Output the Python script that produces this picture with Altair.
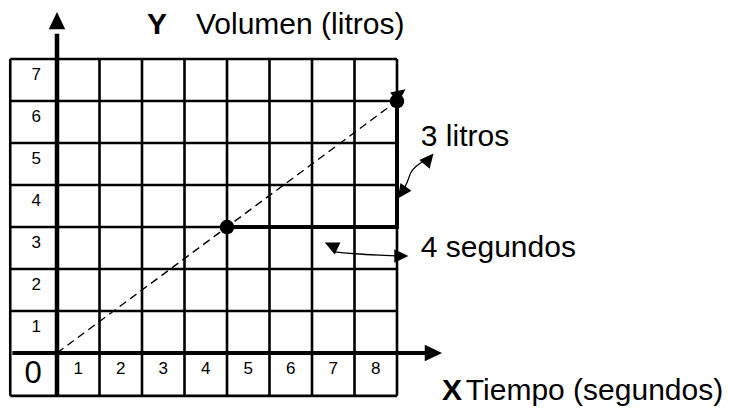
import altair as alt
import pandas as pd

# ---- values -------------------------------------------------------------
# tick labels written inside the first row / first column of the grid
x_ticks = [1, 2, 3, 4, 5, 6, 7, 8]
y_ticks = [1, 2, 3, 4, 5, 6, 7]

# volume grows 3 litres every 4 seconds
line_t = [0, 8]
line_v = [0, 6]

# run (4 s) and rise (3 L) between the two marked points
step_t = [4, 8, 8]
step_v = [3, 3, 6]

dot_t = [4, 8]
dot_v = [3, 6]

# grid cells (the label row/column sits left of and below the origin)
grid_x = [-1.1, 1, 2, 3, 4, 5, 6, 7, 8]
grid_y = [-1.02, 1, 2, 3, 4, 5, 6, 7]

# ---- scales -------------------------------------------------------------
W, H = 731, 409
xs = alt.Scale(domain=[-1.3412, 15.8588], nice=False, zero=False)
ys = alt.Scale(domain=[-1.3333, 8.4048], nice=False, zero=False)
FONT = "Liberation Sans"


def X(f="x"):
    return alt.X(f"{f}:Q", scale=xs, axis=None)


def Y(f="y"):
    return alt.Y(f"{f}:Q", scale=ys, axis=None)


# ---- grid ---------------------------------------------------------------
vgrid = alt.Chart(pd.DataFrame({"x": grid_x, "y": -1.02, "y2": 7})).mark_rule(
    color="black", strokeWidth=2.6
).encode(x=X(), y=Y(), y2="y2:Q")

hgrid = alt.Chart(pd.DataFrame({"y": grid_y, "x": -1.1, "x2": 8})).mark_rule(
    color="black", strokeWidth=2.6
).encode(y=Y(), x=X(), x2="x2:Q")

# ---- axes with arrowheads ----------------------------------------------
yaxis = alt.Chart(pd.DataFrame({"x": [0], "y": [-1.02], "y2": [7.6]})).mark_rule(
    color="black", strokeWidth=4.5
).encode(x=X(), y=Y(), y2="y2:Q")

xaxis = alt.Chart(pd.DataFrame({"y": [0], "x": [-1.05], "x2": [8.7]})).mark_rule(
    color="black", strokeWidth=4.2
).encode(y=Y(), x=X(), x2="x2:Q")

ARROW = "M0,0L0.95,2L-0.95,2Z"

axis_heads = alt.Chart(
    pd.DataFrame({"x": [0, 9.06], "y": [8.12, 0], "a": [0, 90]})
).mark_point(shape=ARROW, filled=True, color="black", opacity=1, size=300).encode(
    x=X(), y=Y(), angle=alt.Angle("a:Q", scale=None)
)

# ---- tick labels --------------------------------------------------------
xlab = alt.Chart(pd.DataFrame({"t": x_ticks})).transform_calculate(
    x="datum.t - 0.5", y="-0.39"
).mark_text(font=FONT, fontSize=17, color="black", baseline="middle").encode(
    x=X(), y=Y(), text="t:N"
)

ylab = alt.Chart(pd.DataFrame({"t": y_ticks})).transform_calculate(
    x="-0.49", y="datum.t - 0.37"
).mark_text(font=FONT, fontSize=17, color="black", baseline="middle").encode(
    x=X(), y=Y(), text="t:N"
)

zero = alt.Chart(pd.DataFrame({"x": [-0.56], "y": [-0.49], "t": ["0"]})).mark_text(
    font=FONT, fontSize=31, color="black", baseline="middle"
).encode(x=X(), y=Y(), text="t:N")

# ---- data marks ---------------------------------------------------------
dashed = alt.Chart(
    pd.DataFrame({"x": line_t, "y": line_v, "i": range(len(line_t))})
).mark_line(color="black", strokeWidth=1.4, strokeDash=[8, 5]).encode(
    x=X(), y=Y(), order="i:Q"
)

step = alt.Chart(
    pd.DataFrame({"x": step_t, "y": step_v, "i": range(len(step_t))})
).mark_line(color="black", strokeWidth=4, strokeJoin="miter", strokeCap="square").encode(
    x=X(), y=Y(), order="i:Q"
)

dots = alt.Chart(pd.DataFrame({"x": dot_t, "y": dot_v})).mark_point(
    shape="circle", filled=True, color="black", opacity=1, size=210
).encode(x=X(), y=Y())

# arrow tip of the dashed line at the upper point
tip = alt.Chart(pd.DataFrame({"x": [8.2], "y": [6.28], "a": [53]})).mark_point(
    shape=ARROW, filled=True, color="black", opacity=1, size=200
).encode(x=X(), y=Y(), angle=alt.Angle("a:Q", scale=None))

# ---- curved annotation arrows ------------------------------------------
rise_shaft = alt.Chart(
    pd.DataFrame(
        {
            "x": [8.10, 8.25, 8.30, 8.36, 8.47, 8.70],
            "y": [3.80, 4.07, 4.25, 4.36, 4.47, 4.62],
            "i": range(6),
        }
    )
).mark_line(color="black", strokeWidth=1.3, interpolate="basis").encode(
    x=X(), y=Y(), order="i:Q"
)

run_shaft = alt.Chart(
    pd.DataFrame(
        {"x": [6.50, 7.0, 7.6, 8.05], "y": [2.41, 2.36, 2.33, 2.31], "i": range(4)}
    )
).mark_line(color="black", strokeWidth=1.3, interpolate="basis").encode(
    x=X(), y=Y(), order="i:Q"
)

ann_heads = alt.Chart(
    pd.DataFrame(
        {
            "x": [8.02, 8.86, 6.30, 8.27],
            "y": [3.68, 4.75, 2.63, 2.31],
            "a": [215, 40, 295, 90],
        }
    )
).mark_point(shape=ARROW, filled=True, color="black", opacity=1, size=200).encode(
    x=X(), y=Y(), angle=alt.Angle("a:Q", scale=None)
)

# ---- titles and annotation text ----------------------------------------
texts = pd.DataFrame(
    {
        "x": [2.35, 3.27, 8.56, 8.56, 9.06, 9.62],
        "y": [7.595, 7.595, 4.93, 2.29, -1.119, -1.119],
        "t": ["Y", "Volumen (litros)", "3 litros", "4 segundos", "X", "Tiempo (segundos)"],
        "w": ["bold", "normal", "normal", "normal", "bold", "normal"],
        "al": ["center", "left", "left", "left", "left", "left"],
    }
)


def label(row, size):
    return alt.Chart(pd.DataFrame([row])).mark_text(
        font=FONT,
        fontSize=size,
        fontWeight=row["w"],
        align=row["al"],
        baseline="alphabetic",
        color="black",
    ).encode(x=X(), y=Y(), text="t:N")


labels = [label(r, 30) for _, r in texts.iterrows()]

chart = alt.layer(
    vgrid,
    hgrid,
    dashed,
    yaxis,
    xaxis,
    axis_heads,
    step,
    dots,
    tip,
    rise_shaft,
    run_shaft,
    ann_heads,
    xlab,
    ylab,
    zero,
    *labels,
).properties(
    width=W,
    height=H,
    padding=0,
    autosize=alt.AutoSizeParams(type="none"),
    background="white",
).configure_view(stroke=None)

chart.save("out.html", embed_options={"renderer": "svg", "actions": False})
